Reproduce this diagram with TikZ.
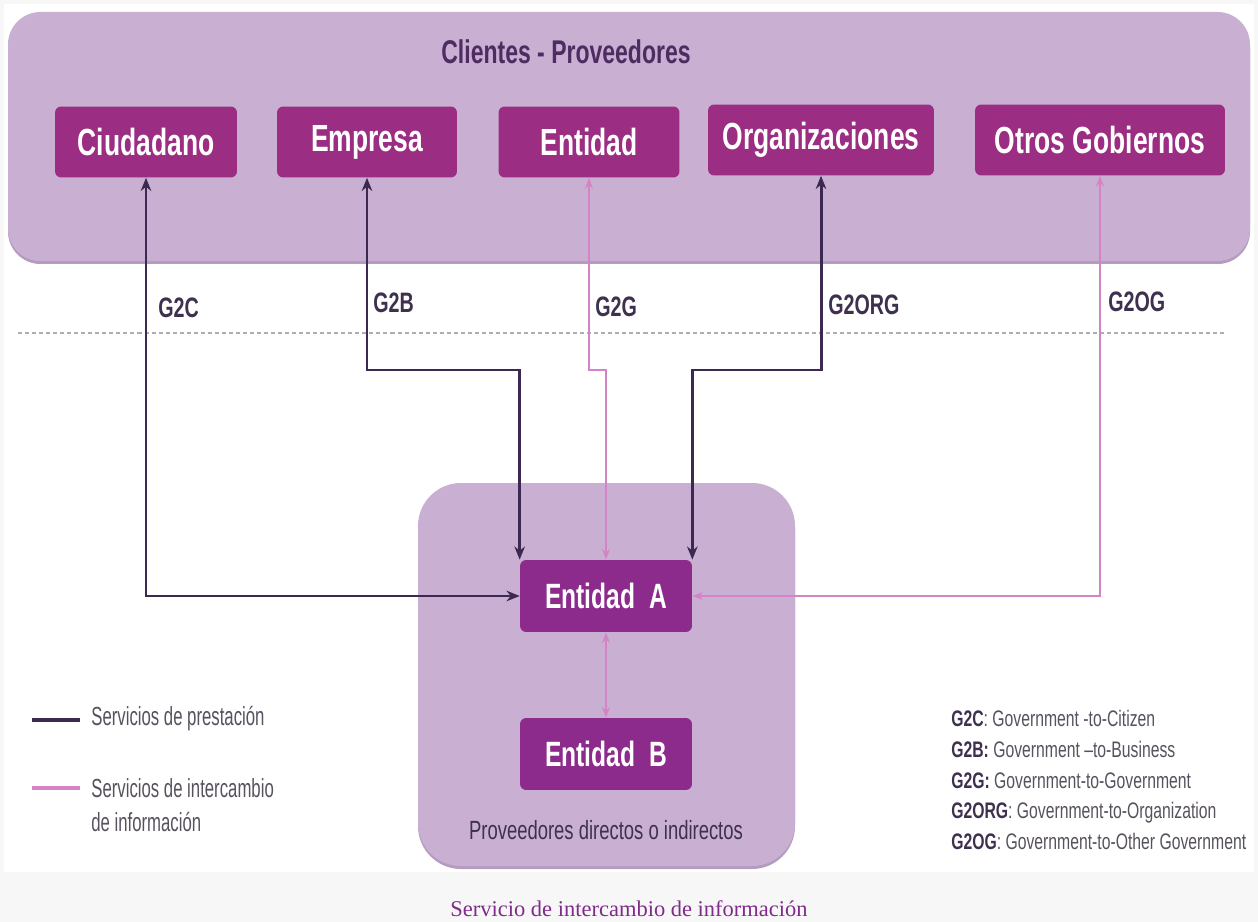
\documentclass[tikz,border=0pt]{standalone}
\usepackage{fontspec}
\setmainfont{Liberation Serif}
\newfontfamily\narrowfont[FakeStretch=0.7]{Liberation Sans}
\newfontfamily\legendfont[FakeStretch=0.64]{Liberation Sans}
\usetikzlibrary{arrows.meta}
\definecolor{pagegrey}{RGB}{247,247,247}
\definecolor{panelfill}{RGB}{201,176,211}
\definecolor{panelshade}{RGB}{180,155,192}
\definecolor{clientfill}{RGB}{155,45,130}
\definecolor{entityfill}{RGB}{140,43,140}
\definecolor{linedark}{RGB}{60,40,80}
\definecolor{linepink}{RGB}{212,132,196}
\definecolor{titletext}{RGB}{62,48,78}
\definecolor{headtext}{RGB}{78,44,98}
\definecolor{greytext}{RGB}{88,82,94}
\definecolor{captiontext}{RGB}{128,42,140}
\tikzstyle{client} = [rectangle, rounded corners=3.5pt, fill=clientfill, text=white, inner sep=0pt, minimum height=1.42cm, font=\narrowfont\bfseries\fontsize{21.5}{24}\selectfont]
\tikzstyle{entity} = [client, fill=entityfill, minimum width=3.44cm, minimum height=1.44cm, font=\narrowfont\bfseries\fontsize{20}{23}\selectfont]
\tikzstyle{service} = [line width=1.7pt, draw=linedark, <->, >={Stealth[length=7.5pt,width=6pt]}]
\tikzstyle{exchange} = [line width=1.1pt, draw=linepink, <->, >={Stealth[length=6pt,width=4.5pt]}]
\tikzstyle{glabel} = [anchor=west, inner sep=0pt, text=titletext, font=\narrowfont\bfseries\fontsize{16}{18}\selectfont]
\tikzstyle{keytext} = [anchor=west, inner sep=0pt, align=left, text=greytext]

\begin{document}
\begin{tikzpicture}[x=0.02cm, y=-0.02cm]
\useasboundingbox (0,0) rectangle (1258,922);
\clip (0,0) rectangle (1258,922);
\fill[pagegrey] (0,0) rectangle (1258,922);
\fill[white] (4,4) rectangle (1254,872);

%Clients panel
\fill[panelshade, rounded corners=0.65cm] (8,15) rectangle (1250,264);
\fill[panelfill, rounded corners=0.65cm] (8,12) rectangle (1250,261);
\node[text=headtext, font=\narrowfont\bfseries\fontsize{18.7}{22}\selectfont] (title) at (566,52) {Clientes - Proveedores};
\node[client, minimum width=3.64cm] (ciud) at (146,142) {Ciudadano};
\node[client, minimum width=3.6cm] (empr) at (367,142) {Empresa};
\node[client, minimum width=3.62cm] (enti) at (589,142) {Entidad};
\node[client, minimum width=4.52cm] (orga) at (821,140) {Organizaciones};
\node[client, minimum width=5.0cm] (otro) at (1100,140) {Otros Gobiernos};

%Providers panel
\fill[panelshade, rounded corners=0.86cm] (418,486) rectangle (795,869);
\fill[panelfill, rounded corners=0.86cm] (418,483) rectangle (795,866);
\node[entity] (entA) at (606,596) {Entidad~~A};
\node[entity] (entB) at (606,754) {Entidad~~B};
\node[text=titletext, font=\narrowfont\fontsize{15}{18}\selectfont] (prov) at (606,830) {Proveedores directos o indirectos};

%Separator
\coordinate (sepL) at (18,333);
\coordinate (sepR) at (1226,333);
\draw[draw={rgb,255:red,175;green,172;blue,180}, line width=0.9pt, dash pattern=on 2.3pt off 1.7pt] (sepL) -- (sepR);

%Connectors
\coordinate (knee) at (0,370);
\draw[service] (ciud.south) |- (entA.west);
\draw[service] (empr.south) -- (empr.south |- knee) -| (entA.north west);
\draw[exchange] (enti.south) -- (enti.south |- knee) -| (entA.north);
\draw[service] (orga.south) -- (orga.south |- knee) -| (entA.north east);
\draw[exchange] (otro.south) |- (entA.east);
\draw[exchange] (entA.south) -- (entB.north);

\node[glabel] (lblC) at (158,308) {G2C};
\node[glabel] (lblB) at (373,303) {G2B};
\node[glabel] (lblG) at (595,307) {G2G};
\node[glabel] (lblORG) at (828,305) {G2ORG};
\node[glabel] (lblOG) at (1108,302) {G2OG};

%Legend
\coordinate (keyDa) at (32,720);
\coordinate (keyDb) at (80,720);
\coordinate (keyPa) at (32,788);
\coordinate (keyPb) at (80,788);
\draw[linedark, line width=2.2pt] (keyDa) -- (keyDb);
\draw[linepink, line width=2.2pt] (keyPa) -- (keyPb);
\node[keytext, font=\legendfont\fontsize{14.9}{19.3}\selectfont] (keyD) at (91,719) {Servicios de prestación};
\node[keytext, font=\legendfont\fontsize{14.9}{19.3}\selectfont] (keyP) at (91,805) {Servicios de intercambio\\de información};

\node[keytext, font=\narrowfont\fontsize{12.8}{17.6}\selectfont] (glossary) at (951,780) {%
\textcolor{titletext}{\bfseries G2C}: Government -to-Citizen\\
\textcolor{titletext}{\bfseries G2B:} Government –to-Business\\
\textcolor{titletext}{\bfseries G2G:} Government-to-Government\\
\textcolor{titletext}{\bfseries G2ORG}: Government-to-Organization\\
\textcolor{titletext}{\bfseries G2OG}: Government-to-Other Government};

%Caption
\node[anchor=base, inner sep=0pt, text=captiontext, font=\fontsize{12.8}{15}\selectfont] (caption) at (629,916) {Servicio de intercambio de información};
\end{tikzpicture}
\end{document}
